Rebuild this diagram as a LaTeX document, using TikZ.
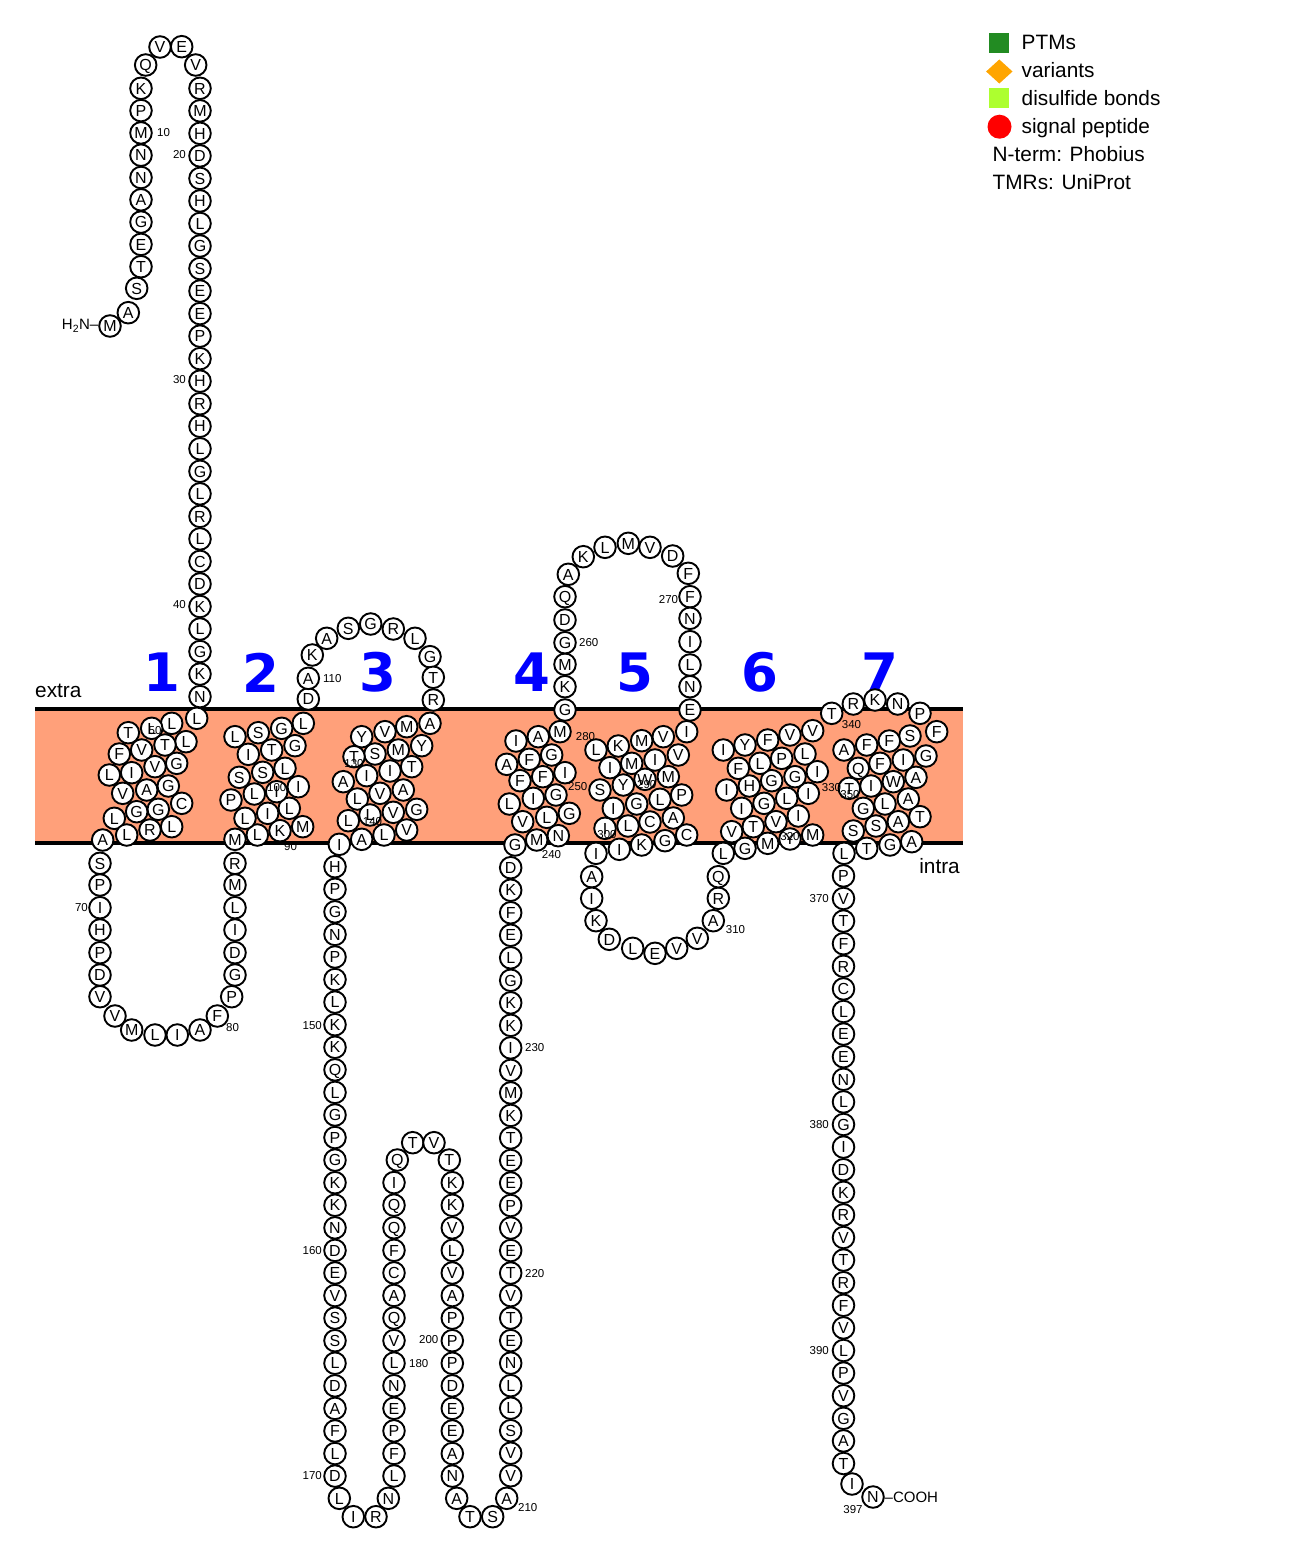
\documentclass[tikz,border=0pt]{standalone}
\usepackage{fontspec}
\setmainfont{Liberation Sans}
\newfontfamily\numfont{DejaVu Sans}
\usetikzlibrary{shapes.geometric}
\definecolor{memb}{RGB}{255,160,122}
\definecolor{ptmc}{RGB}{34,139,34}
\definecolor{varc}{RGB}{255,165,0}
\definecolor{ssbc}{RGB}{173,255,47}
\begin{document}
\begin{tikzpicture}[x=1pt,y=-1pt,
 res/.style={circle,draw,line width=1.9pt,fill=white,minimum size=21.6pt,inner sep=0pt,text height=11.4pt,text depth=0pt,font=\fontsize{16}{16}\selectfont},
 idx/.style={inner sep=0pt,font=\fontsize{11.5}{11.5}\selectfont},
 tmnum/.style={inner sep=0pt,text=blue,font=\numfont\bfseries\fontsize{53}{53}\selectfont},
 legtxt/.style={anchor=base west,inner sep=0pt,font=\fontsize{20.8}{20.8}\selectfont},
 term/.style={inner sep=0pt,font=\fontsize{15}{15}\selectfont}]
\useasboundingbox (0,0) rectangle (1296,1563);
% membrane
\fill[memb] (35,708.5) rectangle (963,842.5);
\draw[line width=4pt] (35,708.5) -- (963,708.5);
\draw[line width=4pt] (35,842.5) -- (963,842.5);
\node[anchor=base west,inner sep=0pt,font=\fontsize{20.8}{20.8}\selectfont] (extra) at (35,697) {extra};
\node[anchor=base east,inner sep=0pt,font=\fontsize{20.8}{20.8}\selectfont] (intra) at (960,873) {intra};
% TM numbers
\foreach \x/\n in {161.7/1,261/2,378.3/3,531.7/4,635/5,760/6,880/7}
  \node[tmnum] (tm\n) at (\x,672.5) {\n};
% N-terminus
\node[term,anchor=east] (h2n) at (98.5,326) {H\textsubscript{2}N–};
\node[res] (r1) at (110,326) {M};
\node[res] (r2) at (128.3,312.7) {A};
\node[res] (r3) at (136.7,288.3) {S};
\foreach \l [count=\i from 0] in {K,P,M,N,N,A,G,E,T}
  \node[res] (nl\i) at (141,{88.3+\i*22.3}) {\l};
\node[res] (r13) at (145.7,65) {Q};
\node[res] (r14) at (160,47) {V};
\node[res] (r15) at (181.7,46.7) {E};
\node[res] (r16) at (195.7,65) {V};
\foreach \l [count=\i from 0] in {R,M,H,D,S,H,L,G,S,E,E,P,K,H,R,H,L,G,L,R,L,C,D,K,L,G,K,N}
  \node[res] (nr\i) at (200,{88.3+\i*22.53}) {\l};
\node[res] (r45) at (196.7,718.3) {L};
% TM1
\foreach \x/\y/\l [count=\i] in {171.7/723.3/L,151.7/728.3/L,128.3/732.7/T,186/741.7/L,165/745/T,141.7/750/V,119.3/754/F,176.7/763.3/G,155/766.7/V,131.7/772.7/I,109.3/775/L,168.3/786/G,146.7/790/A,122.7/793.3/V,181.7/803.3/C,158.3/809.3/G,136.7/811.7/G,114.3/818.3/L,171.7/826.7/L,150/830/R,126.7/835/L,102.7/840/A}
  \node[res] (ta\i) at (\x,\y) {\l};
% loop 1
\foreach \x/\y/\l [count=\i] in {100/863.3/S,100/885/P,100/907.7/I,100/930/H,100/952.7/P,100/975/D,100/996.7/V,115/1016/V,131.7/1030/M,155/1035/L,177.3/1035/I,200/1030/A,217.3/1016/F,231.7/996.7/P,235/975/G,235/952.7/D,235/930/I,235/907.7/L,235/885/M,235/863.3/R}
  \node[res] (la\i) at (\x,\y) {\l};
% TM2
\foreach \x/\y/\l [count=\i] in {235/839.3/M,257.3/835/L,280/830.7/K,302.7/826.7/M,245/818.3/L,267.7/813.3/I,289.3/808.3/L,231/800/P,254.3/794/L,276.7/791.7/I,298.3/786.7/I,239.3/777.3/S,262.7/772.3/S,285/768.3/L,248.3/754.3/I,271.7/750/T,295/745.7/G,235/736.7/L,258.3/732.7/S,281.7/728.3/G,303.3/723.3/L}
  \node[res] (tb\i) at (\x,\y) {\l};
% loop 2
\foreach \x/\y/\l [count=\i] in {308.3/699/D,308.3/678.3/A,312.3/655/K,326.7/638.3/A,348.3/628.3/S,370.7/624/G,393.3/629/R,415/638.3/L,430/656.7/G,433.3/677.3/T,433.3/700/R}
  \node[res] (lb\i) at (\x,\y) {\l};
% TM3
\foreach \x/\y/\l [count=\i] in {430/723.3/A,406.7/726.7/M,385/731.7/V,361.7/736.7/Y,421.7/745.7/Y,398.3/750/M,375/754/S,354/756.7/T,411.7/766.7/T,390/771/I,366.7/775.7/I,343.3/781.7/A,403.3/790/A,380/793.3/V,357.3/799/L,416.7/809.3/G,393.3/812.3/V,370/815/L,348.3/820.7/L,406.7/830/V,384/835/L,361.7/839.3/A,339.3/844.3/I}
  \node[res] (tc\i) at (\x,\y) {\l};
% loop 3
\foreach \l [count=\i from 0] in {H,P,G,N,P,K,L,K,K,Q,L,G,P,G,K,K,N,D,E,V,S,S,L,D,A,F,L,D}
  \node[res] (lc\i) at (335,{866.7+\i*22.57}) {\l};
\node[res] (lcb1) at (339.3,1498.3) {L};
\node[res] (lcb2) at (353.3,1516.7) {I};
\node[res] (lcb3) at (376,1516.7) {R};
\node[res] (lcb4) at (388.3,1498.3) {N};
\foreach \l [count=\i from 0] in {L,F,P,E,N,L,V,Q,A,C,F,Q,Q,I}
  \node[res] (ld\i) at (394,{1476-\i*22.57}) {\l};
\node[res] (lct1) at (397.3,1160) {Q};
\node[res] (lct2) at (412.7,1142.7) {T};
\node[res] (lct3) at (434,1142.7) {V};
\node[res] (lct4) at (449.3,1160) {T};
\foreach \l [count=\i from 0] in {K,K,V,L,V,A,P,P,P,D,E,E,A,N}
  \node[res] (le\i) at (452.3,{1182.7+\i*22.57}) {\l};
\node[res] (lcc1) at (456.7,1498.3) {A};
\node[res] (lcc2) at (470,1516.7) {T};
\node[res] (lcc3) at (492.7,1516.7) {S};
\node[res] (lcc4) at (506.7,1498.3) {A};
\foreach \l [count=\i from 0] in {D,K,F,E,L,G,K,K,I,V,M,K,T,E,E,P,V,E,T,V,T,E,N,L,L,S,V,V}
  \node[res] (lf\i) at (510.7,{867.7+\i*22.52}) {\l};
% TM4
\foreach \x/\y/\l [count=\i] in {515/845/G,536.7/840/M,558.3/835.7/N,522.7/821.7/V,546.7/817.3/L,569.3/813.3/G,509.3/804/L,533.3/798.3/I,556/795/G,520/780.7/F,542.7/776.7/F,565/772.7/I,506.7/764.3/A,529.3/759.3/F,551.7/755/G,516/741/I,538.3/736.7/A,560/731.7/M}
  \node[res] (td\i) at (\x,\y) {\l};
% loop 4
\foreach \x/\y/\l [count=\i] in {565/710/G,565/686.7/K,565/664.3/M,565/642.7/G,565/620/D,565/596.7/Q,568.3/574.3/A,583.3/556.7/K,605/547.3/L,628.3/543.3/M,650/547.3/V,672.7/556/D,688.3/573.3/F,690/596.7/F,690/618.3/N,690/641.7/I,690/665/L,690/686.7/N,690/710/E}
  \node[res] (lg\i) at (\x,\y) {\l};
% TM5
\foreach \x/\y/\l [count=\i] in {686.7/731.7/I,663.3/736.7/V,641.7/740.7/M,618.3/746/K,596/750/L,678.3/755/V,655/760/I,631.7/763.3/M,610/767.7/I,668.3/776.7/M,645/779.3/W,623.3/785/Y,600/790/S,681.7/795/P,660/799.3/L,636.7/804/G,613.3/808.3/I,673.3/818/A,650/822/C,628/826/L,605/828.3/I,686.7/835/C,665/840.7/G,641.7/845/K,619.3/849.3/I,596/853.3/I}
  \node[res] (te\i) at (\x,\y) {\l};
% loop 5
\foreach \x/\y/\l [count=\i] in {591.7/876.7/A,591.7/898.3/I,596/920.7/K,609.3/939.3/D,632.7/948.3/L,655/953.3/E,676.7/948.3/V,697.3/938.3/V,713.3/920.7/A,718.3/898.3/R,718.3/876.7/Q,723.3/853.3/L}
  \node[res] (lh\i) at (\x,\y) {\l};
% TM6
\foreach \x/\y/\l [count=\i] in {745/848.3/G,767.7/843.3/M,790/839/Y,812.7/835/M,731.7/831.7/V,753.3/826.7/T,776/821.7/V,798.3/816/I,741.7/808.3/I,764/803.3/G,786.7/798.3/L,808.3/793.3/I,726.7/790/I,749.3/786/H,771.7/780.7/G,795/776.7/G,817.3/771.7/I,738.3/768.3/F,760/763.3/L,781.7/758.3/P,805/754/L,723.3/750/I,745/745/Y,767.7/740/F,790/735/V,812.7/730.7/V}
  \node[res] (tf\i) at (\x,\y) {\l};
% loop 6
\foreach \x/\y/\l [count=\i] in {831.7/713.3/T,853.3/704/R,875/700/K,897.7/704/N,920/713.3/P}
  \node[res] (li\i) at (\x,\y) {\l};
% TM7
\foreach \x/\y/\l [count=\i] in {936.7/731.7/F,910/736/S,889.3/741/F,866.7/745/F,844/750/A,926/756/G,903.3/760/I,880/763.3/F,858.3/768.3/Q,916/777.3/A,893.3/781.7/W,871/786/I,849.3/788.3/T,908.3/799/A,885/804/L,863.3/808.3/G,920/816.7/T,898.3/821.7/A,876/826/S,853.3/831/S,911.7/841.7/A,890/845/G,866.7/848.3/T,844/853.3/L}
  \node[res] (tg\i) at (\x,\y) {\l};
% C-terminus
\node[res] (c369) at (843.5,875.9) {P};
\foreach \l [count=\i from 0] in {V,T,F,R,C,L,E,E,N,L,G,I,D,K,R,V,T,R,F,V,L,P,V,G,A,T}
  \node[res] (ct\i) at (843.5,{898.5+\i*22.6}) {\l};
\node[res] (c396) at (852,1484) {I};
\node[res] (c397) at (873,1497) {N};
\node[term,anchor=west] (cooh) at (884.5,1497) {–COOH};
% index labels
\node[idx,anchor=west] (i10) at (157,132.7) {10};
\node[idx,anchor=east] (i20) at (186,155) {20};
\node[idx,anchor=east] (i30) at (186,380) {30};
\node[idx,anchor=east] (i40) at (186,605) {40};
\node[idx] (i50) at (155,731) {50};
\node[idx,anchor=east] (i70) at (88,908) {70};
\node[idx,anchor=west] (i80) at (226,1028) {80};
\node[idx,anchor=west] (i90) at (284,846.7) {90};
\node[idx] (i100) at (276.7,787.3) {100};
\node[idx,anchor=west] (i110) at (323,679) {110};
\node[idx] (i130) at (354,764) {130};
\node[idx] (i140) at (372.5,821.7) {140};
\node[idx,anchor=east] (i150) at (322,1025.7) {150};
\node[idx,anchor=east] (i160) at (322,1250.7) {160};
\node[idx,anchor=east] (i170) at (322,1476) {170};
\node[idx,anchor=west] (i180) at (409,1364) {180};
\node[idx,anchor=east] (i200) at (438.5,1340) {200};
\node[idx,anchor=west] (i210) at (518,1507.3) {210};
\node[idx,anchor=west] (i220) at (525,1273.3) {220};
\node[idx,anchor=west] (i230) at (525,1047.7) {230};
\node[idx,anchor=west] (i240) at (541.7,855) {240};
\node[idx,anchor=west] (i250) at (568,786.7) {250};
\node[idx,anchor=west] (i260) at (579,642.7) {260};
\node[idx,anchor=east] (i270) at (678.3,600) {270};
\node[idx,anchor=west] (i280) at (575.7,736.7) {280};
\node[idx] (i290) at (646.7,785) {290};
\node[idx] (i300) at (607,835) {300};
\node[idx,anchor=west] (i310) at (725.7,929.3) {310};
\node[idx] (i320) at (790,836.7) {320};
\node[idx,anchor=west] (i330) at (821.7,787.3) {330};
\node[idx,anchor=west] (i340) at (841.7,724.3) {340};
\node[idx] (i350) at (850,794.3) {350};
\node[idx,anchor=east] (i370) at (829,898.5) {370};
\node[idx,anchor=east] (i380) at (829,1124.5) {380};
\node[idx,anchor=east] (i390) at (829,1350.5) {390};
\node[idx] (i397) at (853,1510) {397};
% legend
\fill[ptmc] (989.3,32.7) rectangle (1009.3,52.7);
\fill[varc] (999.3,59.5) -- (1012.5,71.5) -- (999.3,83.5) -- (986.1,71.5) -- cycle;
\fill[ssbc] (989.3,88.3) rectangle (1009.3,108.3);
\fill[red] (999.5,126.7) circle (12);
\node[legtxt] (lg1) at (1021.5,49.3) {PTMs};
\node[legtxt] (lg2) at (1021.5,77.3) {variants};
\node[legtxt] (lg3) at (1021.5,105.3) {disulfide bonds};
\node[legtxt] (lg4) at (1021.5,133.3) {signal peptide};
\node[legtxt] (lg5) at (992.5,161.3) {N-term: Phobius};
\node[legtxt] (lg6) at (992.5,189.3) {TMRs: UniProt};
\end{tikzpicture}
\end{document}
